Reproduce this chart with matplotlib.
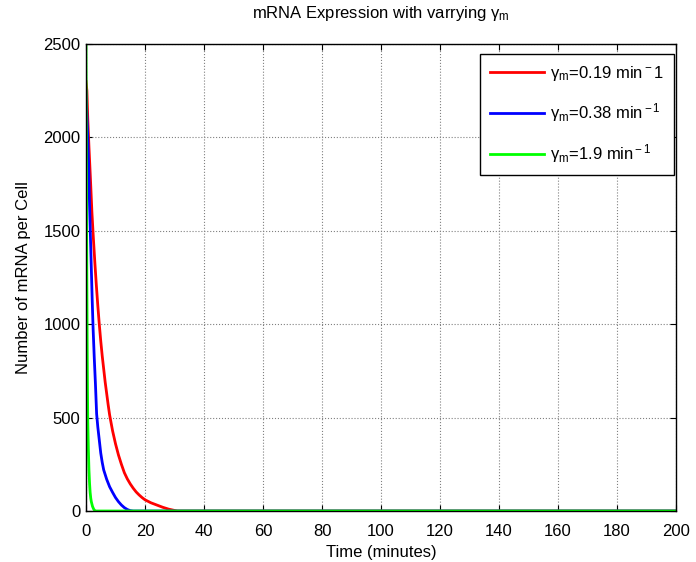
import matplotlib
matplotlib.use('Agg')
import matplotlib.pyplot as plt

plt.rcParams['font.family'] = ['Liberation Sans', 'DejaVu Sans']
plt.rcParams['mathtext.fontset'] = 'custom'
plt.rcParams['mathtext.rm'] = 'Liberation Sans'
plt.rcParams['mathtext.it'] = 'Liberation Sans'

# gamma_m = 0.19 min^-1
red_t = [0, 0.3, 0.6, 1, 1.5, 2, 2.5, 3, 3.5, 4, 4.5, 5, 5.5, 6, 6.5, 7, 7.5,
         8, 9, 10, 11, 12, 13, 14, 15, 16, 17, 18, 19, 20, 22, 24, 26, 28,
         30, 31, 200]
red_v = [2300, 2250, 2100, 1950, 1780, 1600, 1460, 1330, 1210, 1100, 1000,
         910, 830, 760, 690, 630, 570, 515, 430, 360, 300, 250, 205, 172,
         145, 122, 102, 86, 72, 60, 44, 32, 20, 10, 3, 0, 0]

# gamma_m = 0.38 min^-1
blue_t = [0, 0.3, 0.6, 0.9, 1.2, 1.5, 1.8, 2.1, 2.4, 2.8, 3.2, 3.6, 4, 4.5,
          5, 5.5, 6, 7, 8, 9, 10, 11, 12, 13, 14, 15, 16, 200]
blue_v = [2250, 2120, 2000, 1850, 1640, 1470, 1300, 1130, 980, 820, 680,
          520, 450, 380, 310, 260, 220, 170, 130, 100, 72, 50, 32, 18, 8,
          2, 0, 0]

# gamma_m = 1.9 min^-1
green_t = [0, 0.1, 0.2, 0.3, 0.4, 0.5, 0.6, 0.8, 1, 1.2, 1.4, 1.6, 1.8,
           2.2, 2.6, 3, 3.2, 200]
green_v = [2500, 2000, 1550, 1200, 900, 650, 480, 330, 220, 150, 100, 70,
           50, 25, 10, 2, 0, 0]

labels = [r'γ$_{\rm m}$=0.19 min$^{\rm -}$1',
          r'γ$_{\rm m}$=0.38 min$^{\rm -1}$',
          r'γ$_{\rm m}$=1.9 min$^{\rm -1}$']

FS = 12
fig = plt.figure(figsize=(6.96, 5.62), dpi=100)
ax = fig.add_axes([86 / 696, 1 - 511 / 562, 590 / 696, 467 / 562])

ax.plot(red_t, red_v, color='#ff0000', lw=2, label=labels[0])
ax.plot(blue_t, blue_v, color='#0000ff', lw=2, label=labels[1])
ax.plot(green_t, green_v, color='#00ff00', lw=2, label=labels[2])

ax.set_xlim(0, 200)
ax.set_ylim(0, 2500)
ax.set_xticks(range(0, 201, 20))
ax.set_yticks(range(0, 2501, 500))
ax.grid(True, linestyle=':', color='#808080', lw=0.8)
ax.tick_params(direction='in', top=True, right=True, labelsize=FS, length=4)
ax.tick_params(axis='x', pad=9)
ax.tick_params(axis='y', pad=4)
for s in ax.spines.values():
    s.set_linewidth(1)

ax.set_xlabel('Time (minutes)', fontsize=FS, labelpad=5)
ax.set_ylabel('Number of mRNA per Cell', fontsize=FS, labelpad=9)
ax.set_title(r'mRNA Expression with varrying γ$_{\rm m}$', fontsize=FS, pad=19)

leg = ax.legend(loc='upper right', bbox_to_anchor=(1 - 2 / 590, 1 - 10 / 467),
                fontsize=FS, handlelength=3.2, handletextpad=0.4,
                labelspacing=1.1, borderpad=0.6, fancybox=False,
                framealpha=1, edgecolor='black', borderaxespad=0)
leg.get_frame().set_linewidth(1)

fig.savefig('out.png', dpi=100)
